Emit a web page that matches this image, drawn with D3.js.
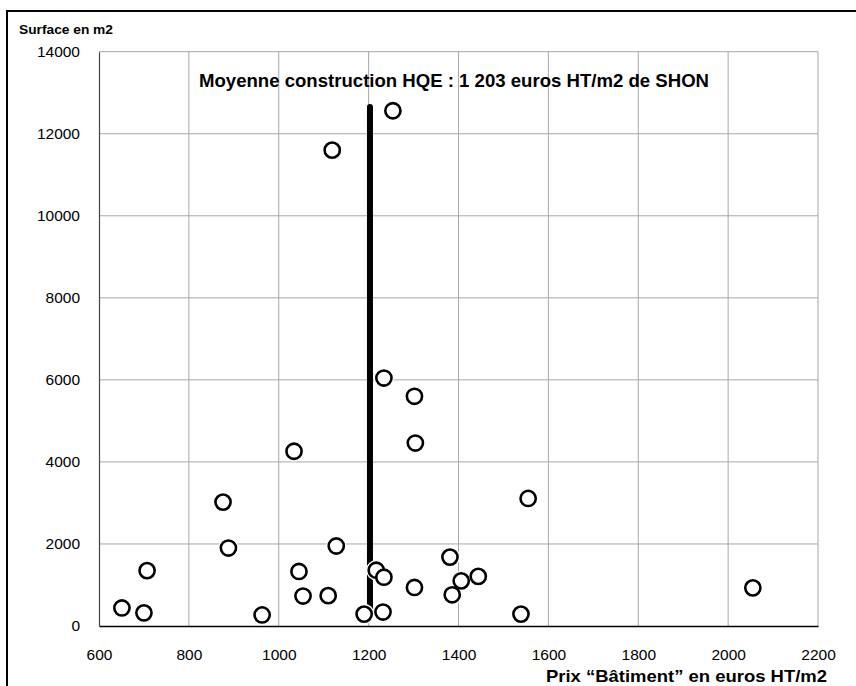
<!DOCTYPE html>
<html><head><meta charset="utf-8">
<script src="https://cdn.jsdelivr.net/npm/d3@7"></script>
<style>body{margin:0;background:#fff}svg{display:block}text{font-family:"Liberation Sans",Arial,sans-serif}</style>
</head><body><svg id="c" width="856" height="686"></svg>
<script>
const prix = [651,700,707,876,888,963,1034,1045,1054,1110,1119,1128,1190,1217,1232,1234,1234,1254,1302,1302,1304,1381,1386,1406,1444,1539,1555,2055];
const surface = [440,320,1350,3020,1900,270,4260,1330,730,740,11600,1950,290,1360,340,1190,6045,12560,5600,940,4460,1680,760,1100,1210,290,3110,930];
const xTicks = [600,800,1000,1200,1400,1600,1800,2000,2200];
const yTicks = [0,2000,4000,6000,8000,10000,12000,14000];
const moyenne = 1203;
const moyenneRange = [400,12650];
const title = "Moyenne construction HQE : 1 203 euros HT/m2 de SHON";
const xTitle = "Prix “Bâtiment” en euros HT/m2";
const yTitle = "Surface en m2";

const svg = d3.select("#c");
const x = d3.scaleLinear().domain([600,2200]).range([99,818]);
const y = d3.scaleLinear().domain([0,14000]).range([626,51.7]);

// outer frame
svg.append("rect").attr("x",7).attr("y",11).attr("width",900).attr("height",700)
  .attr("fill","none").attr("stroke","#000").attr("stroke-width",2);

// grid
svg.append("g").selectAll("line").data(xTicks.slice(1)).join("line")
  .attr("x1",d=>x(d)).attr("x2",d=>x(d)).attr("y1",y(0)).attr("y2",y(14000))
  .attr("stroke","#a8a8a8").attr("stroke-width",1);
svg.append("g").selectAll("line").data(yTicks.slice(1)).join("line")
  .attr("x1",x(600)).attr("x2",x(2200)).attr("y1",d=>y(d)).attr("y2",d=>y(d))
  .attr("stroke","#a8a8a8").attr("stroke-width",1);

// axes
const xAxis = svg.append("g").attr("transform",`translate(0,${y(0)})`)
  .call(d3.axisBottom(x).tickValues(xTicks).tickSize(0).tickPadding(23).tickFormat(d3.format("d")));
xAxis.select(".domain").attr("stroke","#000").attr("stroke-width",1.5);
xAxis.selectAll("text").attr("font-size",15.5).attr("fill","#000");
const yAxis = svg.append("g").attr("transform",`translate(${x(600)},0)`)
  .call(d3.axisLeft(y).tickValues(yTicks).tickSize(0).tickPadding(19).tickFormat(d3.format("d")));
yAxis.select(".domain").attr("stroke","#444").attr("stroke-width",1.2);
yAxis.selectAll("text").attr("font-size",15.5).attr("fill","#000");

// mean line
svg.append("line").attr("x1",x(moyenne)).attr("x2",x(moyenne))
  .attr("y1",y(moyenneRange[0])).attr("y2",y(moyenneRange[1]))
  .attr("stroke","#000").attr("stroke-width",6).attr("stroke-linecap","round");

// points
const pts = prix.map((p,i)=>[p,surface[i]]);
svg.append("g").selectAll("circle").data(pts).join("circle")
  .attr("cx",d=>x(d[0])).attr("cy",d=>y(d[1])).attr("r",8)
  .attr("fill","#fff").attr("stroke","#fff").attr("stroke-width",4.5);
svg.append("g").selectAll("circle").data(pts).join("circle")
  .attr("cx",d=>x(d[0])).attr("cy",d=>y(d[1])).attr("r",7.6)
  .attr("fill","#fff").attr("stroke","#000").attr("stroke-width",2.6);

// texts
svg.append("text").attr("x",19).attr("y",34).attr("font-size",13.5).attr("font-weight","bold")
  .attr("textLength",94).attr("lengthAdjust","spacingAndGlyphs").text(yTitle);
svg.append("text").attr("x",199).attr("y",87).attr("font-size",18).attr("font-weight","bold")
  .attr("textLength",510).attr("lengthAdjust","spacingAndGlyphs").text(title);
svg.append("text").attr("x",546).attr("y",682).attr("font-size",17).attr("font-weight","bold")
  .attr("textLength",281).attr("lengthAdjust","spacingAndGlyphs").text(xTitle);
</script></body></html>
